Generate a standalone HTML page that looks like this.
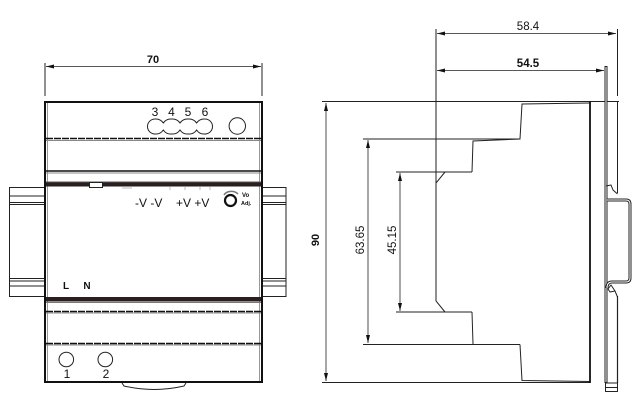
<!DOCTYPE html>
<html><head><meta charset="utf-8"><style>
html,body{margin:0;padding:0;background:#fff;}
svg{display:block;}
text{font-family:"Liberation Sans",Arial,sans-serif;fill:#111;}
</style></head><body>
<svg width="643" height="403" viewBox="0 0 643 403" xmlns="http://www.w3.org/2000/svg">
<defs>
<marker id="a" viewBox="0 0 8 4" refX="8" refY="2" markerWidth="8" markerHeight="4" orient="auto-start-reverse" markerUnits="userSpaceOnUse"><path d="M0,0 L8,2 L0,4 z" fill="#111"/></marker>
</defs>

<!-- ================= FRONT VIEW ================= -->
<line x1="45" y1="63" x2="45" y2="96" stroke="#222" stroke-width="1"/>
<line x1="262" y1="63" x2="262" y2="96" stroke="#222" stroke-width="1"/>
<line x1="46" y1="66.5" x2="261" y2="66.5" stroke="#222" stroke-width="0.8" marker-start="url(#a)" marker-end="url(#a)"/>
<text x="153" y="63" font-size="11" font-weight="bold" text-anchor="middle">70</text>

<g fill="#fff" stroke="#222" stroke-width="1">
<rect x="9.5" y="187.5" width="36" height="109"/>
<rect x="261" y="187.5" width="25" height="109"/>
</g>
<g stroke="#222" stroke-width="1">
<line x1="9.5" y1="196" x2="45" y2="196"/><line x1="9.5" y1="202.5" x2="45" y2="202.5"/><line x1="9.5" y1="204.5" x2="45" y2="204.5"/>
<line x1="9.5" y1="278.5" x2="45" y2="278.5"/><line x1="9.5" y1="281" x2="45" y2="281"/><line x1="9.5" y1="286" x2="45" y2="286"/>
<line x1="262" y1="196" x2="286" y2="196"/><line x1="262" y1="202.5" x2="286" y2="202.5"/><line x1="262" y1="204.5" x2="286" y2="204.5"/>
<line x1="262" y1="278.5" x2="286" y2="278.5"/><line x1="262" y1="281" x2="286" y2="281"/><line x1="262" y1="286" x2="286" y2="286"/>
</g>

<rect x="45" y="102" width="217" height="280" fill="#fff" stroke="#111" stroke-width="2"/>
<line x1="47.5" y1="103" x2="47.5" y2="381" stroke="#999" stroke-width="1"/>
<line x1="259.5" y1="103" x2="259.5" y2="381" stroke="#999" stroke-width="1"/>

<line x1="46" y1="138.5" x2="261" y2="138.5" stroke="#111" stroke-width="1.5" stroke-dasharray="7 1"/>
<line x1="46" y1="140.5" x2="261" y2="140.5" stroke="#888" stroke-width="1"/>
<line x1="46" y1="171" x2="261" y2="171" stroke="#111" stroke-width="1.4"/>
<line x1="46" y1="173" x2="261" y2="173" stroke="#888" stroke-width="1"/>
<line x1="46" y1="182" x2="261" y2="182" stroke="#555" stroke-width="1"/>
<rect x="46" y="182.5" width="215" height="4" fill="#2a1f1f"/>
<rect x="89.5" y="182.5" width="13" height="5" fill="#fff" stroke="#222" stroke-width="1"/>
<rect x="46" y="297" width="215" height="4.5" fill="#2a1f1f"/>
<line x1="46" y1="302.5" x2="261" y2="302.5" stroke="#777" stroke-width="1"/>
<line x1="46" y1="311.5" x2="261" y2="311.5" stroke="#111" stroke-width="1.5" stroke-dasharray="7 1"/>
<line x1="46" y1="313" x2="261" y2="313" stroke="#888" stroke-width="1"/>
<line x1="46" y1="343.5" x2="261" y2="343.5" stroke="#111" stroke-width="1.5" stroke-dasharray="7 1"/>
<line x1="46" y1="345" x2="261" y2="345" stroke="#888" stroke-width="1"/>

<g stroke="#bbb" stroke-width="1">
<line x1="122" y1="188" x2="132" y2="188"/>
<line x1="170" y1="187" x2="170" y2="190"/><line x1="185" y1="187" x2="185" y2="190"/><line x1="200" y1="187" x2="200" y2="190"/><line x1="210" y1="187" x2="210" y2="190"/>
</g>

<text x="155" y="116" font-size="12" text-anchor="middle">3</text>
<text x="171.5" y="116" font-size="12" text-anchor="middle">4</text>
<text x="188" y="116" font-size="12" text-anchor="middle">5</text>
<text x="205" y="116" font-size="12" text-anchor="middle">6</text>
<path d="M155,119 A7.5,7.5 0 0 0 155,134 A9,9 0 0 0 163.3,130 A9,9 0 0 0 171.6,134 A9,9 0 0 0 180,130 A9,9 0 0 0 188.3,134 A9,9 0 0 0 196.6,130 A9,9 0 0 0 205,134 A7.5,7.5 0 0 0 205,119 A9,9 0 0 0 196.6,123 A9,9 0 0 0 188.3,119 A9,9 0 0 0 180,123 A9,9 0 0 0 171.6,119 A9,9 0 0 0 163.3,123 A9,9 0 0 0 155,119 Z" fill="none" stroke="#222" stroke-width="1"/>
<circle cx="237.3" cy="126" r="8.2" fill="none" stroke="#222" stroke-width="1"/>

<text x="135" y="207" font-size="12">-V -V</text>
<text x="176" y="207" font-size="12">+V +V</text>
<circle cx="230.5" cy="200.5" r="5.5" fill="none" stroke="#111" stroke-width="2.2"/>
<path d="M224,195 A8,6 0 0 1 238,194" fill="none" stroke="#777" stroke-width="1.5"/>
<text x="242" y="197" font-size="6" font-weight="bold">Vo</text>
<text x="241" y="205" font-size="5.5" font-weight="bold">Adj.</text>

<text x="66" y="289" font-size="10" font-weight="bold" text-anchor="middle">L</text>
<text x="87" y="289" font-size="10" font-weight="bold" text-anchor="middle">N</text>

<circle cx="66.3" cy="359.5" r="7.3" fill="none" stroke="#222" stroke-width="1"/>
<circle cx="105.3" cy="359.5" r="7.3" fill="none" stroke="#222" stroke-width="1"/>
<text x="67" y="378" font-size="12" text-anchor="middle">1</text>
<text x="106" y="378" font-size="12" text-anchor="middle">2</text>
<path d="M122,383 L124,386 Q154,393 184,386 L186,383" fill="#fff" stroke="#222" stroke-width="1"/>

<!-- ================= SIDE VIEW ================= -->
<line x1="436" y1="29" x2="436" y2="183" stroke="#222" stroke-width="1"/>
<line x1="617.5" y1="29" x2="617.5" y2="96" stroke="#222" stroke-width="1"/>
<line x1="437" y1="33.5" x2="616" y2="33.5" stroke="#222" stroke-width="0.8" marker-start="url(#a)" marker-end="url(#a)"/>
<text x="528" y="30" font-size="11.5" text-anchor="middle">58.4</text>
<line x1="437" y1="70.5" x2="604" y2="70.5" stroke="#222" stroke-width="0.8" marker-start="url(#a)" marker-end="url(#a)"/>
<text x="528" y="67" font-size="11.5" font-weight="bold" text-anchor="middle">54.5</text>

<line x1="322" y1="101.5" x2="619" y2="101.5" stroke="#222" stroke-width="1"/>
<line x1="322" y1="382.5" x2="590" y2="382.5" stroke="#222" stroke-width="1"/>

<g fill="none" stroke="#222" stroke-width="1">
<path d="M590,103 L522,104 L520,139 L473,141 L472,172"/>
<line x1="363" y1="139" x2="520" y2="139"/>
<line x1="396" y1="172" x2="472" y2="172"/>
<path d="M445,172 L436,183 L436,301 L445,312"/>
<line x1="396" y1="312" x2="472" y2="312"/>
<path d="M472,312 L473,344"/>
<line x1="363" y1="344.5" x2="520" y2="344.5"/>
<path d="M520,344.5 L522,380.5 L590,381.5"/>
</g>

<line x1="326" y1="103" x2="326" y2="381" stroke="#222" stroke-width="0.8" marker-start="url(#a)" marker-end="url(#a)"/>
<line x1="368" y1="140" x2="368" y2="343" stroke="#222" stroke-width="0.8" marker-start="url(#a)" marker-end="url(#a)"/>
<line x1="400" y1="173" x2="400" y2="311" stroke="#222" stroke-width="0.8" marker-start="url(#a)" marker-end="url(#a)"/>
<text transform="translate(319,240) rotate(-90)" font-size="11" font-weight="bold" text-anchor="middle">90</text>
<text transform="translate(364,240) rotate(-90)" font-size="11.5" text-anchor="middle">63.65</text>
<text transform="translate(396,240) rotate(-90)" font-size="11.5" text-anchor="middle">45.15</text>

<line x1="590" y1="101" x2="590" y2="383" stroke="#111" stroke-width="1.8"/>

<g fill="none" stroke-linejoin="round">
<line x1="606" y1="66" x2="606" y2="383" stroke="#222" stroke-width="3"/>
<line x1="606" y1="67" x2="606" y2="382" stroke="#fff" stroke-width="1"/>
<line x1="617.5" y1="102" x2="617.5" y2="193" stroke="#222" stroke-width="1"/>
<path d="M606,186 L611,185 L613,190 L617.5,194" stroke="#222" stroke-width="1"/>
<path d="M607,200 L626,200 Q630,200 630,204 L630,278 Q630,282 626,282 L612,282 Q607,282 607,288" stroke="#222" stroke-width="3"/>
<path d="M607,200 L626,200 Q630,200 630,204 L630,278 Q630,282 626,282 L612,282 Q607,282 607,288" stroke="#fff" stroke-width="1"/>
<path d="M608,289 L611,285 L615,291 L610,292 Z M615,291 L617.5,297" stroke="#222" stroke-width="1"/>
<line x1="617.5" y1="296" x2="617.5" y2="383" stroke="#222" stroke-width="1.2"/>
<rect x="605.5" y="383" width="12" height="8.5" fill="#fff" stroke="#222" stroke-width="1"/>
<line x1="606" y1="387.5" x2="617" y2="387.5" stroke="#222" stroke-width="1"/>
</g>
</svg>
</body></html>
